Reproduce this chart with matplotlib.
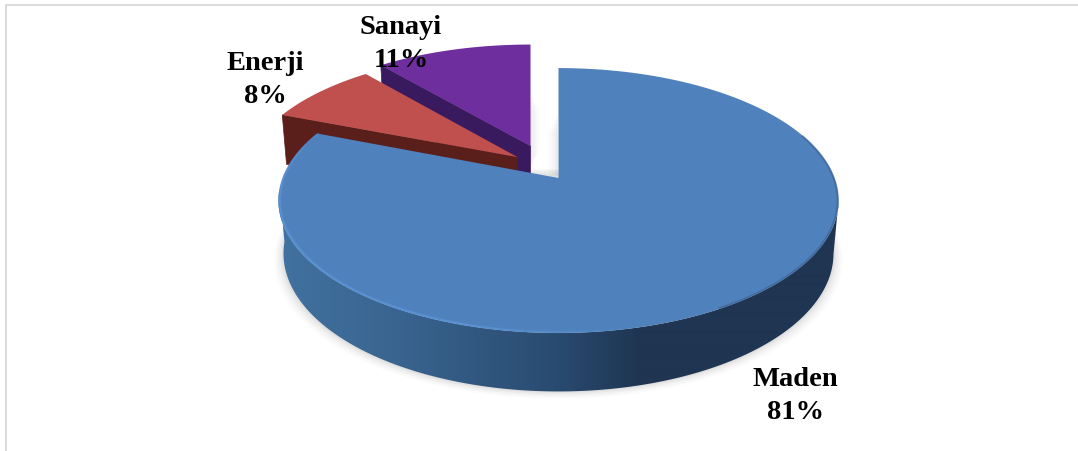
#!/usr/bin/env python

import numpy as np
import matplotlib
matplotlib.use("Agg")
import matplotlib.pyplot as plt
from matplotlib.colors import to_rgb
from matplotlib.patches import Polygon

categories = ["Maden", "Enerji", "Sanayi"]
percents = [81, 8, 11]
top_colors = ["#4F81BD", "#C0504D", "#6F2E9E"]
cut_colors = ["#1F3552", "#5A1F1B", "#3A1A5E"]

# explode: shift in the disc depth and in pixels sideways
explode_w = [0, -0.167, -0.26]
explode_x = [0, -41, -28]
label_xy = [(795, 396), (265, 80), (401, 44)]

CX, CY = 558.5, 178
RX, AY, B = 276, 128.6, -0.17
RX_LOW, AY_LOW, DY_LOW = 271, 134, 52


def project_top(theta, dw=0, dx=0, r=1.0):
    # theta is clockwise from 12 o'clock, in degrees
    t = np.radians(theta)
    u = r * np.sin(t)
    w = -r * np.cos(t) + dw
    d = 1 + B * w
    return CX + dx + RX * u / d, CY + AY * w / d


def project_low(theta, dw=0, dx=0, r=1.0):
    t = np.radians(theta)
    u = r * np.sin(t)
    w = -r * np.cos(t) + dw
    d = 1 + B * w
    return CX + dx + RX_LOW * u / d, CY + DY_LOW + AY_LOW * w / d


def wedge_points(start, end, dw, dx):
    th = np.linspace(start, end, 200)
    x, y = project_top(th, dw, dx)
    ax0, ay0 = project_top(0, dw, dx, r=0)
    return np.column_stack([np.r_[ax0, x], np.r_[ay0, y]])


def cut_points(theta, dw, dx):
    x0, y0 = project_top(theta, dw, dx, r=0)
    x1, y1 = project_top(theta, dw, dx)
    x2, y2 = project_low(theta, dw, dx)
    x3, y3 = project_low(theta, dw, dx, r=0)
    return [(x0, y0), (x1, y1), (x2, y2), (x3, y3)]


def rim_color(x):
    # wall gets darker from left to right
    stops_x = [285, 400, 560, 640, 840]
    stops_c = [to_rgb(c) for c in ["#41719F", "#39648F", "#294A6F", "#1F3552", "#1F3552"]]
    return np.column_stack([np.interp(x, stops_x, [c[i] for c in stops_c]) for i in range(3)])


bounds = np.cumsum([0] + percents) * 3.6

fig = plt.figure(figsize=(10.78, 4.51), dpi=100)
ax = fig.add_axes([0, 0, 1, 1])

# chart frame
ax.plot([6, 6, 1078], [451, 4.7, 4.7], color="#D9D9D9", lw=1.4, solid_joinstyle="miter")

# soft shadow below the main wall
th = np.linspace(60, 300, 200)
for grow, alpha in zip([9, 7, 5, 3, 1.5], [0.03, 0.04, 0.05, 0.06, 0.08]):
    sx, sy = project_low(th)
    mx = CX + (sx - CX) * (1 + grow / 270)
    my = sy + grow * 0.8
    ax.fill(mx, my, color="#808080", alpha=alpha, lw=0, zorder=1)

# small shadows next to the exploded slices
for k, a in zip([2, 4, 6, 8, 10], [0.05, 0.04, 0.03, 0.025, 0.02]):
    ax.fill([530, 530 + k, 530 + k, 530], [90 + 2 * k, 90 + 2 * k, 160 - k, 168], color="#808080", alpha=a, lw=0, zorder=1)
    ax.fill([558, 558 - k, 558 - k, 558], [112 + 2 * k, 112 + 2 * k, 175, 176], color="#808080", alpha=a, lw=0, zorder=1)

# slices from the back to the front
for i in [2, 1]:
    ax.add_patch(Polygon(cut_points(bounds[i], explode_w[i], explode_x[i]),
                         closed=True, fc=cut_colors[i], ec=cut_colors[i], lw=0.5, zorder=2 + (2 - i) * 2))
    ax.add_patch(Polygon(wedge_points(bounds[i], bounds[i + 1], explode_w[i], explode_x[i]),
                         closed=True, fc=top_colors[i], ec="none", zorder=3 + (2 - i) * 2))

# main slice wall, a gradient image clipped to the wall outline
th = np.linspace(100, 265, 300)
tx, ty = project_top(th)
lx, ly = project_low(th)
wall = Polygon(np.column_stack([np.r_[tx, lx[::-1]], np.r_[ty, ly[::-1]]]), closed=True,
               fc="none", ec="none", zorder=8)
ax.add_patch(wall)
grad_x = np.linspace(275, 845, 570)
img = ax.imshow(rim_color(grad_x)[np.newaxis, :, :], extent=(275, 845, 400, 150),
                aspect="auto", interpolation="bilinear", zorder=8)
img.set_clip_path(wall)

ax.add_patch(Polygon(wedge_points(bounds[0], bounds[1], 0, 0), closed=True,
                     fc=top_colors[0], ec="none", zorder=9))

# bevel: light edge on the lower left, soft dark edge on the right
th = np.linspace(165, 292, 130)
for a, b in zip(th[:-1], th[1:]):
    x, y = project_top(np.array([a, b]), r=0.995)
    f = min(1.0, (a - 165) / 30) * min(1.0, (292 - a) / 30 + 0.15)
    ax.plot(x, y, color="#5E98DC", lw=2.2, alpha=0.28 * f, solid_capstyle="butt", zorder=10)
    ax.plot(x, y, color="#5E98DC", lw=1.1, alpha=0.6 * f, solid_capstyle="butt", zorder=10)
th = np.linspace(70, 150, 80)
x, y = project_top(th, r=0.997)
ax.plot(x, y, color="#2C4A70", lw=1.6, alpha=0.35, zorder=10)

for i, c in enumerate(categories):
    ax.text(label_xy[i][0], label_xy[i][1], c + "\n" + str(percents[i]) + "%",
            ha="center", va="center", fontsize=20.5, fontweight="bold",
            family="Liberation Serif", color="black", linespacing=1.38, zorder=12)

ax.set_xlim(0, 1078)
ax.set_ylim(451, 0)
ax.axis("off")

fig.savefig("out.png", dpi=100)
